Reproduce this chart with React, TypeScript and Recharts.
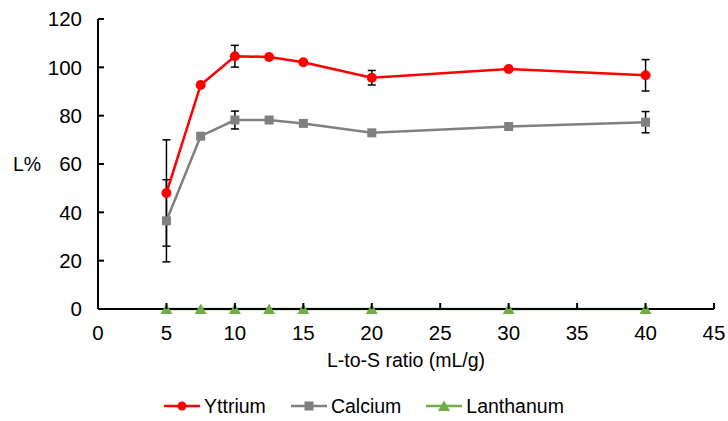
import React from "react";
import {
  ComposedChart,
  Line,
  XAxis,
  YAxis,
  ErrorBar,
  Legend,
} from "recharts";

// L-to-S ratio (mL/g)
const ratios = [5, 7.5, 10, 12.5, 15, 20, 30, 40];

// leaching efficiency L% per element, with +/- deviations where measured
const yttrium = [48, 92.7, 104.6, 104.3, 102.1, 95.7, 99.3, 96.7];
const yttriumErr = [22, null, 4.5, null, null, 3, null, 6.5];
const calcium = [36.5, 71.5, 78.2, 78.2, 76.8, 72.9, 75.5, 77.3];
const calciumErr = [17, null, 3.7, null, null, null, null, 4.4];
const lanthanum = [0, 0, 0, 0, 0, 0, 0, 0];

const xTicks = [0, 5, 10, 15, 20, 25, 30, 35, 40, 45];
const yTicks = [0, 20, 40, 60, 80, 100, 120];

const data = ratios.map((r, i) => ({
  ratio: r,
  yttrium: yttrium[i],
  yttriumErr: yttriumErr[i],
  calcium: calcium[i],
  calciumErr: calciumErr[i],
  lanthanum: lanthanum[i],
}));

const FONT = "'Liberation Sans', Arial, sans-serif";
const FONT_SIZE = 19.5;
const TICK_SIZE = 20.5;

const RED = "#FF0000";
const GREY = "#808080";
const GREEN = "#70AD47";

const circleDot = (props: any) => (
  <circle key={`y-${props.index}`} cx={props.cx} cy={props.cy} r={5} fill={RED} />
);

const squareDot = (props: any) => (
  <rect
    key={`c-${props.index}`}
    x={props.cx - 4.5}
    y={props.cy - 4.5}
    width={9}
    height={9}
    fill={GREY}
  />
);

const triangleDot = (props: any) => (
  <path
    key={`l-${props.index}`}
    d={`M${props.cx},${props.cy - 5.5} L${props.cx + 6},${props.cy + 5} L${props.cx - 6},${props.cy + 5} Z`}
    fill={GREEN}
  />
);

// ticks point inward, so the tick mark is drawn together with the label
const XTick = (props: any) => {
  const { x, y, payload } = props;
  const axisY = y - 8;
  return (
    <g>
      <line x1={x} x2={x} y1={axisY} y2={axisY - 6} stroke="#000" strokeWidth={2} />
      <text
        x={x}
        y={axisY + 24}
        dy="0.35em"
        textAnchor="middle"
        fill="#000"
        fontSize={TICK_SIZE}
        fontFamily={FONT}
      >
        {payload.value}
      </text>
    </g>
  );
};

const YTick = (props: any) => {
  const { x, y, payload } = props;
  const axisX = x + 8;
  return (
    <g>
      <line x1={axisX} x2={axisX + 6} y1={y} y2={y} stroke="#000" strokeWidth={2} />
      <text
        x={axisX - 16}
        y={y}
        dy="0.35em"
        textAnchor="end"
        fill="#000"
        fontSize={TICK_SIZE}
        fontFamily={FONT}
      >
        {payload.value}
      </text>
    </g>
  );
};

const legendItems = [
  { name: "Yttrium", color: RED, marker: "circle" },
  { name: "Calcium", color: GREY, marker: "square" },
  { name: "Lanthanum", color: GREEN, marker: "triangle" },
];

const LegendIcon = ({ color, marker }: { color: string; marker: string }) => (
  <svg width={36} height={14} style={{ marginRight: 4 }}>
    <line x1={0} x2={36} y1={7} y2={7} stroke={color} strokeWidth={2.5} />
    {marker === "circle" && <circle cx={18} cy={7} r={4.5} fill={color} />}
    {marker === "square" && <rect x={13.5} y={2.5} width={9} height={9} fill={color} />}
    {marker === "triangle" && <path d="M18,1.5 L24,12 L12,12 Z" fill={color} />}
  </svg>
);

const renderLegend = () => (
  <div
    style={{
      display: "flex",
      justifyContent: "center",
      alignItems: "center",
      height: 30,
      fontFamily: FONT,
      fontSize: FONT_SIZE,
      color: "#000",
    }}
  >
    {legendItems.map((item, i) => (
      <div
        key={item.name}
        style={{ display: "flex", alignItems: "center", marginLeft: i === 0 ? 0 : 25 }}
      >
        <LegendIcon color={item.color} marker={item.marker} />
        <span>{item.name}</span>
      </div>
    ))}
  </div>
);

export default function App() {
  return (
    <div
      style={{
        position: "absolute",
        left: 0,
        top: 0,
        width: 728,
        height: 421,
        overflow: "hidden",
        background: "#fff",
      }}
    >
      <ComposedChart
        width={728}
        height={421}
        data={data}
        margin={{ top: 19, right: 14, left: 0, bottom: 0 }}
      >
        <XAxis
          dataKey="ratio"
          type="number"
          domain={[0, 45]}
          ticks={xTicks}
          interval={0}
          height={82}
          axisLine={{ stroke: "#000", strokeWidth: 2 }}
          tickLine={false}
          tick={<XTick />}
          label={{
            value: "L-to-S ratio (mL/g)",
            position: "insideBottom",
            offset: 24,
            fill: "#000",
            fontSize: FONT_SIZE,
            fontFamily: FONT,
          }}
        />
        <YAxis
          type="number"
          domain={[0, 120]}
          ticks={yTicks}
          interval={0}
          width={98}
          axisLine={{ stroke: "#000", strokeWidth: 2 }}
          tickLine={false}
          tick={<YTick />}
          label={{
            value: "L%",
            position: "insideLeft",
            offset: 13,
            fill: "#000",
            fontSize: FONT_SIZE,
            fontFamily: FONT,
          }}
        />
        <Legend
          verticalAlign="bottom"
          content={renderLegend}
          wrapperStyle={{ position: "absolute", top: 391, bottom: "auto", left: 0, width: 728 }}
        />
        <Line
          dataKey="calcium"
          name="Calcium"
          stroke={GREY}
          strokeWidth={2.5}
          dot={squareDot}
          activeDot={false}
          isAnimationActive={false}
        >
          <ErrorBar dataKey="calciumErr" direction="y" width={4} stroke="#000" strokeWidth={1.5} />
        </Line>
        <Line
          dataKey="yttrium"
          name="Yttrium"
          stroke={RED}
          strokeWidth={2.5}
          dot={circleDot}
          activeDot={false}
          isAnimationActive={false}
        >
          <ErrorBar dataKey="yttriumErr" direction="y" width={4} stroke="#000" strokeWidth={1.5} />
        </Line>
        <Line
          dataKey="lanthanum"
          name="Lanthanum"
          stroke={GREEN}
          strokeWidth={2.5}
          dot={triangleDot}
          activeDot={false}
          isAnimationActive={false}
        />
      </ComposedChart>
    </div>
  );
}
